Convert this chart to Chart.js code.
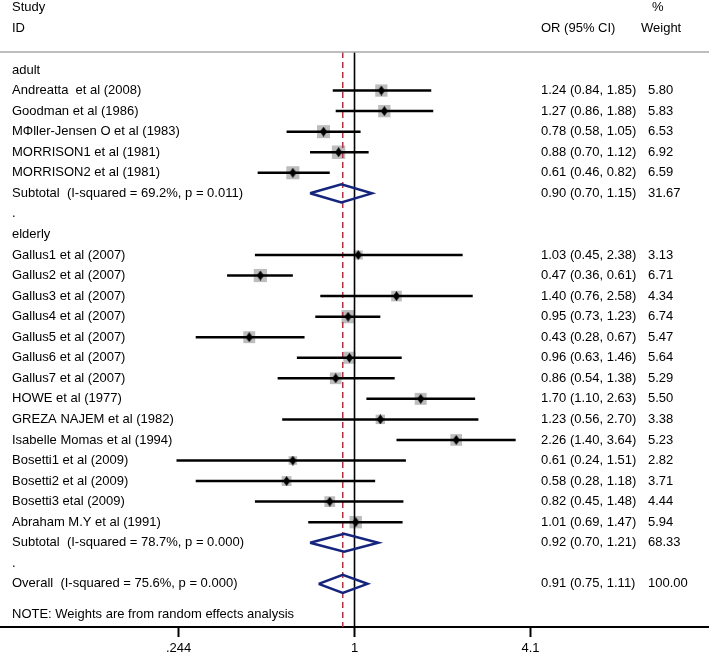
<!DOCTYPE html>
<html>
<head>
<meta charset="utf-8">
<script src="https://cdn.jsdelivr.net/npm/chart.js@4.4.0/dist/chart.umd.min.js"></script>
<style>
  html, body { margin: 0; padding: 0; background: #fff; }
  #wrap { width: 709px; height: 656px; }
</style>
</head>
<body>
<div id="wrap"><canvas id="forest" width="709" height="656"></canvas></div>
<script>
// ---- data ----
const groupNames = ['adult', 'elderly'];

const adultStudies = ['Andreatta  et al (2008)', 'Goodman et al (1986)', 'M\u03A6ller-Jensen O et al (1983)',
  'MORRISON1 et al (1981)', 'MORRISON2 et al (1981)'];
const adultOR     = [1.24, 1.27, 0.78, 0.88, 0.61];
const adultLo     = [0.84, 0.86, 0.58, 0.70, 0.46];
const adultHi     = [1.85, 1.88, 1.05, 1.12, 0.82];
const adultWeight = [5.80, 5.83, 6.53, 6.92, 6.59];

const elderlyStudies = ['Gallus1 et al (2007)', 'Gallus2 et al (2007)', 'Gallus3 et al (2007)', 'Gallus4 et al (2007)',
  'Gallus5 et al (2007)', 'Gallus6 et al (2007)', 'Gallus7 et al (2007)', 'HOWE et al (1977)',
  'GREZA NAJEM et al (1982)', 'Isabelle Momas et al (1994)', 'Bosetti1 et al (2009)', 'Bosetti2 et al (2009)',
  'Bosetti3 etal (2009)', 'Abraham M.Y et al (1991)'];
const elderlyOR     = [1.03, 0.47, 1.40, 0.95, 0.43, 0.96, 0.86, 1.70, 1.23, 2.26, 0.61, 0.58, 0.82, 1.01];
const elderlyLo     = [0.45, 0.36, 0.76, 0.73, 0.28, 0.63, 0.54, 1.10, 0.56, 1.40, 0.24, 0.28, 0.45, 0.69];
const elderlyHi     = [2.38, 0.61, 2.58, 1.23, 0.67, 1.46, 1.38, 2.63, 2.70, 3.64, 1.51, 1.18, 1.48, 1.47];
const elderlyWeight = [3.13, 6.71, 4.34, 6.74, 5.47, 5.64, 5.29, 5.50, 3.38, 5.23, 2.82, 3.71, 4.44, 5.94];

const subtotalOR     = [0.90, 0.92];
const subtotalLo     = [0.70, 0.70];
const subtotalHi     = [1.15, 1.21];
const subtotalWeight = [31.67, 68.33];
const subtotalI2     = [69.2, 78.7];
const subtotalP      = ['0.011', '0.000'];

const overallOR = 0.91, overallLo = 0.75, overallHi = 1.11, overallWeight = 100.00;
const overallI2 = 75.6, overallP = '0.000';

const xTicks = [0.244, 1, 4.1];
const xTickLabels = ['.244', '1', '4.1'];

// ---- rows (one line of the plot per entry) ----
const groups = [
  { studies: adultStudies, or: adultOR, lo: adultLo, hi: adultHi, w: adultWeight },
  { studies: elderlyStudies, or: elderlyOR, lo: elderlyLo, hi: elderlyHi, w: elderlyWeight }
];
const fmt = v => v.toFixed(2);
const ciText = (o, l, h) => fmt(o) + ' (' + fmt(l) + ', ' + fmt(h) + ')';

let rows = [];
let studyPts = [];
let diamonds = [];
let pos = 0;
groups.forEach((g, gi) => {
  rows.push({ pos: pos++, label: groupNames[gi] });
  g.studies.forEach((s, i) => {
    rows.push({ pos: pos, label: s, ci: ciText(g.or[i], g.lo[i], g.hi[i]), w: fmt(g.w[i]) });
    studyPts.push({ y: pos, or: g.or[i], lo: g.lo[i], hi: g.hi[i], w: g.w[i] });
    pos++;
  });
  rows.push({ pos: pos, label: 'Subtotal  (I-squared = ' + subtotalI2[gi].toFixed(1) + '%, p = ' + subtotalP[gi] + ')',
    ci: ciText(subtotalOR[gi], subtotalLo[gi], subtotalHi[gi]), w: fmt(subtotalWeight[gi]) });
  diamonds.push({ y: pos, or: subtotalOR[gi], lo: subtotalLo[gi], hi: subtotalHi[gi] });
  pos++;
  rows.push({ pos: pos++, label: '.' });
});
rows.push({ pos: pos, label: 'Overall  (I-squared = ' + overallI2.toFixed(1) + '%, p = ' + overallP + ')',
  ci: ciText(overallOR, overallLo, overallHi), w: fmt(overallWeight) });
diamonds.push({ y: pos, or: overallOR, lo: overallLo, hi: overallHi });
rows.push({ pos: pos + 1.5, label: 'NOTE: Weights are from random effects analysis' });

const yTop = -0.876, yBottom = 27.1;
const halfH = 0.44;

// small black diamond used as the point estimate marker
const dot = document.createElement('canvas');
dot.width = 7; dot.height = 10;
const dctx = dot.getContext('2d');
dctx.fillStyle = '#000';
dctx.beginPath();
dctx.moveTo(3.5, 0); dctx.lineTo(7, 5); dctx.lineTo(3.5, 10); dctx.lineTo(0, 5); dctx.closePath();
dctx.fill();

// ---- datasets ----
let datasets = [];
studyPts.forEach(p => {
  datasets.push({ type: 'line', data: [{ x: p.lo, y: p.y }, { x: p.hi, y: p.y }],
    borderColor: '#000', borderWidth: 2.5, pointRadius: 0, order: 5 });
});
datasets.push({ type: 'scatter', data: studyPts.map(p => ({ x: p.or, y: p.y })),
  pointStyle: 'rect', pointRadius: studyPts.map(p => 3.6 * Math.sqrt(p.w)),
  backgroundColor: '#bdbdbd', borderWidth: 0, order: 10 });
datasets.push({ type: 'scatter', data: studyPts.map(p => ({ x: p.or, y: p.y })),
  pointStyle: dot, order: 1 });
diamonds.forEach(d => {
  datasets.push({ type: 'line', data: [{ x: d.lo, y: d.y }, { x: d.or, y: d.y - halfH }, { x: d.hi, y: d.y },
      { x: d.or, y: d.y + halfH }, { x: d.lo, y: d.y }],
    borderColor: '#15247c', borderWidth: 2.5, pointRadius: 0, fill: false, order: 2 });
});
datasets.push({ type: 'line', data: [{ x: 1, y: yTop }, { x: 1, y: yBottom }],
  borderColor: '#000', borderWidth: 1.6, pointRadius: 0, order: 6 });
datasets.push({ type: 'line', data: [{ x: overallOR, y: yTop }, { x: overallOR, y: yBottom }],
  borderColor: '#b3323f', borderWidth: 1.5, borderDash: [6, 4], pointRadius: 0, order: 7 });

const FAMILY = '"Liberation Sans", Arial, sans-serif';
const FONT = '13px ' + FAMILY;

const textPlugin = {
  id: 'forestText',
  afterDraw(chart) {
    const ctx = chart.ctx;
    const ys = chart.scales.y;
    ctx.save();
    ctx.font = FONT;
    ctx.fillStyle = '#000';
    ctx.textBaseline = 'middle';
    ctx.fillText('Study', 12, 7);
    ctx.fillText('ID', 12, 28);
    ctx.fillText('OR (95% CI)', 541, 28);
    ctx.fillText('%', 652, 7);
    ctx.fillText('Weight', 641, 28);
    ctx.strokeStyle = '#a8a8a8';
    ctx.lineWidth = 1.5;
    ctx.beginPath();
    ctx.moveTo(0, 52); ctx.lineTo(709, 52);
    ctx.stroke();
    rows.forEach(r => {
      const py = ys.getPixelForValue(r.pos);
      ctx.fillText(r.label, 12, py);
      if (r.ci) {
        ctx.fillText(r.ci, 541, py);
        ctx.fillText(r.w, 648, py);
      }
    });
    ctx.restore();
  }
};

new Chart(document.getElementById('forest'), {
  type: 'scatter',
  data: { datasets: datasets },
  options: {
    responsive: false,
    animation: false,
    layout: { autoPadding: false, padding: { top: 52, left: 0, right: 0, bottom: -4.6 } },
    plugins: { legend: { display: false }, tooltip: { enabled: false } },
    scales: {
      x: {
        type: 'logarithmic',
        min: 0.0583,
        max: 17.15,
        afterBuildTicks: scale => { scale.ticks = xTicks.map(v => ({ value: v })); },
        ticks: {
          autoSkip: false,
          maxRotation: 0,
          padding: 4,
          color: '#000',
          font: { family: FAMILY, size: 13 },
          callback: (v) => xTickLabels[xTicks.indexOf(v)]
        },
        grid: { drawOnChartArea: false, drawTicks: true, tickLength: 10, tickColor: '#000', tickWidth: 2 },
        border: { display: true, color: '#000', width: 2 }
      },
      y: {
        type: 'linear',
        reverse: true,
        min: yTop,
        max: yBottom,
        display: false
      }
    }
  },
  plugins: [textPlugin]
});
</script>
</body>
</html>
